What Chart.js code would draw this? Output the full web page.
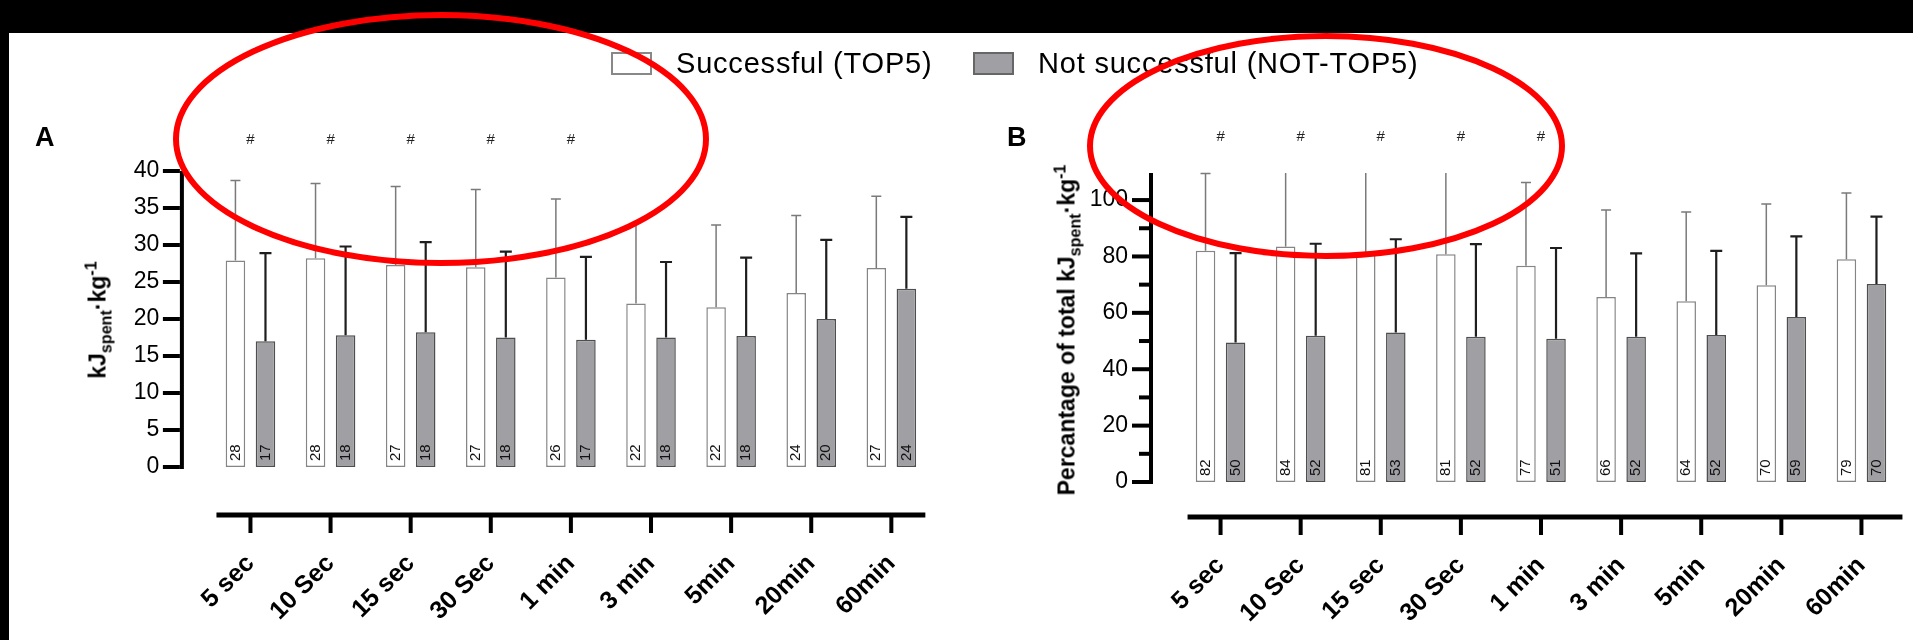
<!DOCTYPE html>
<html>
<head>
<meta charset="utf-8">
<script src="https://cdn.jsdelivr.net/npm/chart.js@4.4.1/dist/chart.umd.min.js"></script>
<style>
  html, body { margin: 0; padding: 0; background: #fff; }
  body { width: 1913px; height: 640px; position: relative; overflow: hidden; font-family: 'Liberation Sans', Arial, sans-serif; color: #000; }
  .band-top { position: absolute; left: 0; top: 0; width: 1913px; height: 33px; background: #000; }
  .band-left { position: absolute; left: 0; top: 0; width: 9px; height: 640px; background: #000; }
  canvas { position: absolute; top: 0; }
  #chartA { left: 0; }
  #chartB { left: 960px; }
  .panel { position: absolute; top: 124px; font-weight: bold; font-size: 27px; line-height: 1; }
  .ytitle { position: absolute; font-weight: bold; font-size: 23px; line-height: 1; white-space: nowrap;
            transform: translate(-50%, -50%) rotate(-90deg); }
  .ytitle sub, .ytitle sup { font-size: 70%; line-height: 0; }
  .lg-box { position: absolute; top: 52px; width: 37px; height: 19px; border: 2px solid #888; }
  .lg-text { position: absolute; top: 49px; font-size: 29px; line-height: 1; letter-spacing: 0.8px; white-space: nowrap; }
  svg { position: absolute; left: 0; top: 0; }
</style>
</head>
<body>
<div class="band-top"></div>
<div class="band-left"></div>

<canvas id="chartA" width="960" height="640"></canvas>
<canvas id="chartB" width="953" height="640"></canvas>

<div class="panel" style="left:35px">A</div>
<div class="panel" style="left:1007px">B</div>
<div class="ytitle" style="left:98px; top:320px">kJ<sub>spent</sub>·kg<sup>-1</sup></div>
<div class="ytitle" style="left:1067px; top:330px">Percantage of total kJ<sub>spent</sub>·kg<sup>-1</sup></div>

<div class="lg-box" style="left:611px; background:#fff;"></div>
<div class="lg-text" style="left:676px">Successful (TOP5)</div>
<div class="lg-box" style="left:973px; background:#a0a0a4; border-color:#666;"></div>
<div class="lg-text" style="left:1038px">Not successful (NOT-TOP5)</div>

<svg width="1913" height="640">
  <ellipse cx="441" cy="139" rx="265" ry="124" fill="none" stroke="#ff0000" stroke-width="6"/>
  <ellipse cx="1326" cy="146" rx="236" ry="110" fill="none" stroke="#ff0000" stroke-width="6"/>
</svg>

<script>
const categories = ['5 sec', '10 Sec', '15 sec', '30 Sec', '1 min', '3 min', '5min', '20min', '60min'];
const seriesNames = ['Successful (TOP5)', 'Not successful (NOT-TOP5)'];

// panel A: kJ spent per kg (mean and upper SD)
const topA = [27.9, 28.2, 27.3, 27.0, 25.6, 22.1, 21.6, 23.5, 26.9];
const topSdA = [10.8, 10.1, 10.6, 10.5, 10.6, 10.9, 11.1, 10.5, 9.7];
const notTopA = [17.0, 17.8, 18.2, 17.5, 17.2, 17.5, 17.7, 20.0, 24.1];
const notTopSdA = [11.9, 12.0, 12.2, 11.6, 11.2, 10.2, 10.6, 10.7, 9.7];

// panel B: percentage of total kJ spent per kg
const topB = [82.0, 83.5, 81.2, 80.8, 76.7, 65.6, 64.1, 69.8, 79.0];
const topSdB = [27.4, 28.5, 30.8, 29.7, 29.5, 30.9, 31.7, 28.8, 23.5];
const notTopB = [49.5, 51.9, 53.0, 51.5, 50.8, 51.5, 52.1, 58.5, 70.2];
const notTopSdB = [31.7, 32.6, 33.1, 32.9, 32.2, 29.6, 29.9, 28.6, 23.9];

// '#' = significant difference
const hashFlags = [true, true, true, true, true, false, false, false, false];

const yTicksA = [0, 5, 10, 15, 20, 25, 30, 35, 40];
const yTicksB = [0, 10, 20, 30, 40, 50, 60, 70, 80, 90, 100];

Chart.defaults.font.family = "'Liberation Sans', Arial, sans-serif";
Chart.defaults.color = '#000';

// axes drawn apart from the bars, error bars, labels in bars, '#'
const figurePlugin = {
  id: 'figure',
  afterDatasetsDraw(chart, args, opts) {
    const ctx = chart.ctx;
    const y = chart.scales.y;
    const area = chart.chartArea;
    chart.data.datasets.forEach((ds, di) => {
      const meta = chart.getDatasetMeta(di);
      meta.data.forEach((bar, i) => {
        const top = y.getPixelForValue(ds.data[i] + ds.sd[i]);
        const clipped = top < area.top;
        ctx.save();
        ctx.strokeStyle = ds.errColor;
        ctx.lineWidth = ds.errWidth;
        ctx.beginPath();
        ctx.moveTo(bar.x, bar.y);
        ctx.lineTo(bar.x, Math.max(top, area.top));
        if (!clipped) {
          ctx.moveTo(bar.x - ds.capHalf, top);
          ctx.lineTo(bar.x + ds.capHalf, top);
        }
        ctx.stroke();
        ctx.restore();

        ctx.save();
        ctx.translate(bar.x, bar.base - 6);
        ctx.rotate(-Math.PI / 2);
        ctx.font = "15px 'Liberation Sans', Arial, sans-serif";
        ctx.fillStyle = '#111';
        ctx.textAlign = 'left';
        ctx.textBaseline = 'middle';
        ctx.fillText(String(Math.round(ds.data[i])), 0, 0);
        ctx.restore();
      });
    });
  },
  afterDraw(chart, args, opts) {
    const ctx = chart.ctx;
    const x = chart.scales.x, y = chart.scales.y;
    const area = chart.chartArea;
    ctx.save();
    ctx.fillStyle = '#000';
    // y axis
    const yl = area.left - opts.yGap;
    const yTop = y.getPixelForValue(y.max);
    const y0 = y.getPixelForValue(0);
    ctx.fillRect(yl - 2, yTop, 4, y0 - yTop + 2);
    y.ticks.forEach(t => {
      const py = y.getPixelForValue(t.value);
      const len = t.label !== '' ? 17 : 10;
      ctx.fillRect(yl - 2 - len, py - 2, len, 4);
    });
    // x axis
    const xa = area.bottom + opts.xGap;
    const first = x.getPixelForTick(0), last = x.getPixelForTick(categories.length - 1);
    ctx.fillRect(first - opts.xStart, xa - 2.5, last - first + opts.xStart + opts.xEnd, 5);
    categories.forEach((c, i) => {
      ctx.fillRect(x.getPixelForTick(i) - 2, xa, 4, 18);
    });
    // significance marks
    ctx.fillStyle = '#222';
    ctx.font = "15px 'Liberation Sans', Arial, sans-serif";
    ctx.textAlign = 'center';
    ctx.textBaseline = 'middle';
    hashFlags.forEach((f, i) => {
      if (f) ctx.fillText('#', x.getPixelForTick(i), area.top - opts.hashGap);
    });
    ctx.restore();
  }
};

function makeDatasets(top, topSd, notTop, notTopSd) {
  return [{
    label: seriesNames[0],
    data: top,
    sd: topSd,
    backgroundColor: '#ffffff',
    borderColor: '#858585',
    borderWidth: 1.5,
    borderSkipped: false,
    errColor: '#7a7a7a',
    errWidth: 1.5,
    capHalf: 5,
    categoryPercentage: 0.75,
    barPercentage: 0.65
  }, {
    label: seriesNames[1],
    data: notTop,
    sd: notTopSd,
    backgroundColor: '#a0a0a4',
    borderColor: '#4e4e4e',
    borderWidth: 1.5,
    borderSkipped: false,
    errColor: '#1e1e1e',
    errWidth: 2.2,
    capHalf: 6,
    categoryPercentage: 0.75,
    barPercentage: 0.65
  }];
}

function makeChart(id, datasets, cfg) {
  return new Chart(document.getElementById(id), {
    type: 'bar',
    data: { labels: categories, datasets: datasets },
    options: {
      responsive: false,
      animation: false,
      layout: { padding: { top: cfg.top, right: cfg.right, bottom: 0, left: 0 } },
      plugins: {
        legend: { display: false },
        tooltip: { enabled: false },
        figure: cfg.fig
      },
      scales: {
        x: {
          grid: { display: false, drawTicks: false },
          border: { display: false },
          ticks: {
            autoSkip: false,
            minRotation: 45,
            maxRotation: 45,
            padding: cfg.xPad,
            font: { size: 25, weight: 'bold' },
            color: '#000'
          },
          afterFit: s => { s.height = cfg.xHeight; s.paddingLeft = 0; s.paddingRight = 0; }
        },
        y: {
          min: 0,
          max: cfg.max,
          grid: { display: false, drawTicks: false },
          border: { display: false },
          afterBuildTicks: s => { s.ticks = cfg.ticks.map(v => ({ value: v })); },
          ticks: {
            padding: cfg.yPad,
            font: { size: 23 },
            color: '#000',
            callback: v => (v % cfg.labelEvery === 0 ? String(v) : '')
          },
          afterFit: s => { s.width = cfg.yWidth; s.paddingTop = 0; s.paddingBottom = 0; }
        }
      }
    },
    plugins: [figurePlugin]
  });
}

makeChart('chartA', makeDatasets(topA, topSdA, notTopA, notTopSdA), {
  top: 171, right: 28.6, xHeight: 173, yWidth: 210.4, max: 40,
  ticks: yTicksA, labelEvery: 5, yPad: 51, xPad: 82,
  fig: { yGap: 28.5, xGap: 48, xStart: 34, xEnd: 34, hashGap: 31 }
});

makeChart('chartB', makeDatasets(topB, topSdB, notTopB, notTopSdB), {
  top: 173, right: 11.5, xHeight: 158, yWidth: 220.5, max: 109.6,
  ticks: yTicksB, labelEvery: 20, yPad: 52.5, xPad: 69,
  fig: { yGap: 29.5, xGap: 35, xStart: 33, xEnd: 41, hashGap: 36 }
});
</script>
</body>
</html>
